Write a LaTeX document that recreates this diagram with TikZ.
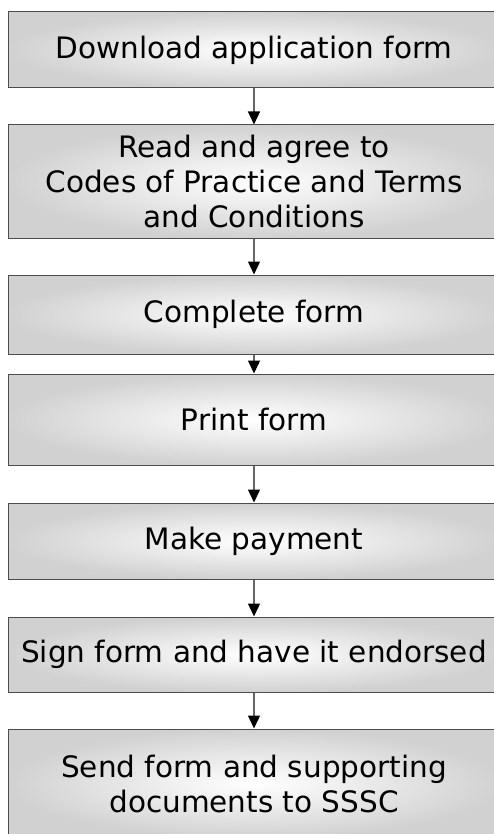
\documentclass[tikz,border=0pt]{standalone}
\usepackage{fontspec}
\setmainfont{DejaVu Sans}
\usetikzlibrary{arrows.meta}

\begin{document}
\begin{tikzpicture}[x=1pt, y=-1pt,
    stepbox/.style={rectangle, draw=black!70, line width=1pt, inner sep=0pt,
        shading=radial, inner color=white, outer color=black!18,
        minimum width=492pt, align=center,
        font=\fontsize{29.5}{35}\selectfont},
    flow/.style={draw=black!60, line width=1.3pt,
        -{Triangle[length=13pt, width=12pt, color=black]}}]
    % Page size
    \useasboundingbox (0,0) rectangle (494,834);
    \clip (0,0) rectangle (494,834);

    % Draw the steps
    \node[stepbox, minimum height=76pt] (dl) at (254,50) {Download application form};
    \node[stepbox, minimum height=113pt] (read) at (254,181.5) {Read and agree to\\Codes of Practice and Terms\\and Conditions};
    \node[stepbox, minimum height=79pt] (compl) at (254,314.5) {Complete form};
    \node[stepbox, minimum height=91pt] (print) at (254,419.5) {Print form};
    \node[stepbox, minimum height=76pt] (pay) at (254,541) {Make payment};
    \node[stepbox, minimum height=75pt] (sign) at (254,654.5) {Sign form and have it endorsed};
    \node[stepbox, minimum height=109pt] (send) at (254,783.5) {Send form and supporting\\documents to SSSC};

    % Arrows between steps
    \foreach \a/\b in {dl/read, read/compl, compl/print, print/pay, pay/sign, sign/send} {
        \draw[flow] (\a) -- (\b);
    }
\end{tikzpicture}
\end{document}
